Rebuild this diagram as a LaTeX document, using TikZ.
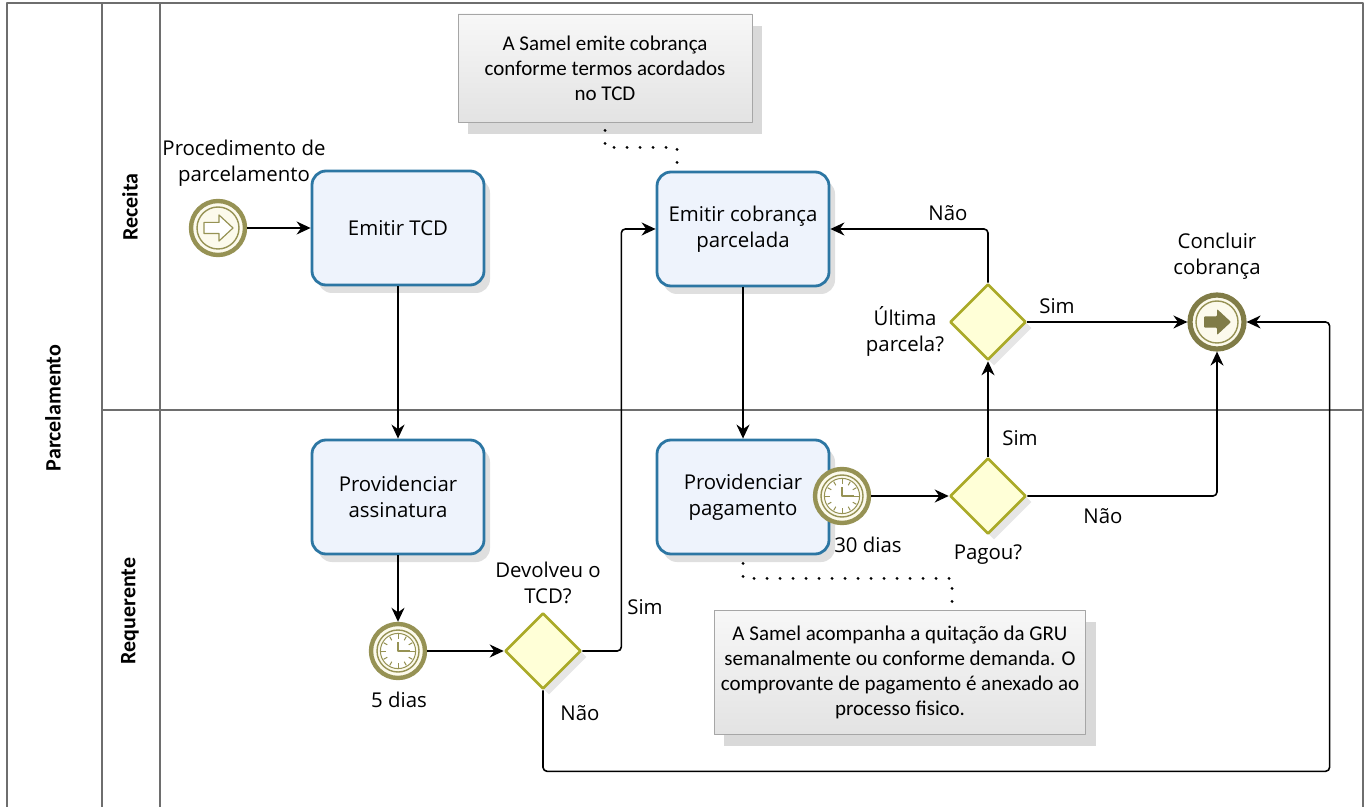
\documentclass[tikz,border=0pt]{standalone}
\usepackage{fontspec}
\setmainfont{Open Sans}
\newfontfamily\notefont{Carlito}
\usetikzlibrary{shapes.geometric,arrows.meta,shadows}
\definecolor{taskline}{RGB}{44,118,163}
\definecolor{taskfill}{RGB}{238,243,252}
\definecolor{gateline}{RGB}{170,170,40}
\definecolor{gatefill}{RGB}{255,255,215}
\definecolor{evline}{RGB}{150,146,84}
\definecolor{evfill}{RGB}{252,250,236}
\definecolor{poolline}{RGB}{110,110,110}
\begin{document}
\begin{tikzpicture}[x=0.5pt, y=-0.5pt, >={Stealth[length=7pt,width=6.5pt]}, line join=round,
  font=\fontsize{10.2}{13}\selectfont,
  task/.style={draw=taskline, line width=1.4pt, rounded corners=7pt, fill=taskfill, minimum width=86pt, minimum height=57pt, align=center,
    drop shadow={shadow xshift=3pt, shadow yshift=-4pt, opacity=0.25}},
  gate/.style={diamond, aspect=1, draw=gateline, line width=1.3pt, fill=gatefill, minimum size=38pt, inner sep=0pt,
    drop shadow={shadow xshift=3pt, shadow yshift=-3pt, opacity=0.2}},
  ev/.style={circle, draw=evline, line width=2.2pt, fill=evfill, minimum size=27pt, inner sep=0pt},
  flow/.style={->, line width=0.8pt, rounded corners=2pt},
  assoc/.style={line width=1.6pt, line cap=round, dash pattern=on 0pt off 6.5pt},
  note/.style={draw=gray!70, top color=gray!6, bottom color=gray!22, minimum width=147pt, minimum height=54pt, align=center,
    font=\notefont\fontsize{10.5}{12.5}\selectfont, drop shadow={shadow xshift=5pt, shadow yshift=-6pt, opacity=0.3}},
  lbl/.style={align=center, inner sep=0pt},
  lane/.style={rotate=90, font=\notefont\bfseries\fontsize{11}{13}\selectfont}
]
\useasboundingbox (0,0) rectangle (1370,807);
% pool and lanes
\draw[poolline, line width=1pt] (7,807) -- (7,3) -- (1363,3) -- (1363,807)
  (102,3) -- (102,807) (160,3) -- (160,807) (102,410) -- (1363,410);
\node[lane] (pool) at (53,408) {Parcelamento};
\node[lane] (rec) at (130,207) {Receita};
\node[lane] (req) at (130,611) {Requerente};

\node[ev] (start) at (218,228) {};
\node[task] (tcd) at (398,228) {Emitir TCD};
\node[task] (assin) at (398,497) {Providenciar\\assinatura};
\node[ev] (t5) at (398,651) {};
\node[gate] (devol) at (543,651) {};
\node[task] (cobr) at (743,229) {Emitir cobrança\\parcelada};
\node[task] (pagto) at (743,497) {Providenciar\\pagamento};
\node[ev] (t30) at (842,496) {};
\node[gate] (pagou) at (988,496) {};
\node[gate] (ultima) at (988,322) {};
\node[ev, line width=2.6pt, draw=evline!85!black] (fim) at (1217,322) {};
\node[note] (nota1) at (605,68) {A Samel emite cobrança\\conforme termos acordados\\no TCD};
\node[note, minimum width=185pt, minimum height=62pt] (nota2) at (900,672)
  {A Samel acompanha a quitação da GRU\\semanalmente ou conforme demanda. O\\comprovante de pagamento é anexado ao\\processo fisico.};

% event icons
\draw[evline, line width=0.7pt] (start) circle (10.5pt) (fim) circle (10.5pt);
\draw[evline, fill=white, line width=0.6pt, shift={(start.center)}]
  (-7pt,-2.8pt) -- (0.5pt,-2.8pt) -- (0.5pt,-6.5pt) -- (7.5pt,0pt) -- (0.5pt,6.5pt) -- (0.5pt,2.8pt) -- (-7pt,2.8pt) -- cycle;
\fill[evline!85!black, rounded corners=0.5pt, shift={(fim.center)}]
  (-6.5pt,-2.8pt) -- (0pt,-2.8pt) -- (0pt,-6.5pt) -- (7pt,0pt) -- (0pt,6.5pt) -- (0pt,2.8pt) -- (-6.5pt,2.8pt) -- cycle;
\foreach \c in {t5,t30}{
  \draw[evline, line width=0.7pt] (\c) circle (10.5pt);
  \draw[evline, fill=white, line width=0.5pt] (\c) circle (8.8pt);
  \foreach \a in {0,30,...,330}
    \draw[evline, line width=0.5pt] ([shift={(\a:6.2pt)}]\c.center) -- ([shift={(\a:8.3pt)}]\c.center);
  \draw[evline, line width=0.7pt] ([shift={(90:4.5pt)}]\c.center) -- (\c.center) -- ([shift={(0:6pt)}]\c.center);
}

% labels
\node[lbl] (lstart) at (244,163) {Procedimento de\\parcelamento};
\node[lbl] (l5) at (399,700) {5 dias};
\node[lbl] (ldevol) at (548,583) {Devolveu o\\TCD?};
\node[lbl] (lsim1) at (645,607) {Sim};
\node[lbl] (lnao1) at (580,713) {Não};
\node[lbl] (l30) at (868,545) {30 dias};
\node[lbl] (lpagou) at (988,555) {Pagou?};
\node[lbl] (lsim2) at (1020,438) {Sim};
\node[lbl] (lnao2) at (1103,516) {Não};
\node[lbl] (lultima) at (905,331) {Última\\parcela?};
\node[lbl] (lsim3) at (1057,306) {Sim};
\node[lbl] (lnao3) at (948,213) {Não};
\node[lbl] (lfim) at (1217,256) {Concluir\\cobrança};

% sequence flows
\draw[flow] (start) -- (tcd);
\draw[flow] (tcd) -- (assin);
\draw[flow] (assin) -- (t5);
\draw[flow] (t5) -- (devol);
\draw[flow] (devol.east) -- ++(39,0) |- (cobr.west);
\draw[flow] (devol.south) -- ++(0,81) -| ([xshift=41.5pt]fim.east) -- (fim.east);
\draw[flow] (cobr) -- (pagto);
\draw[flow] (t30) -- (pagou);
\draw[flow] (pagou) -- (ultima);
\draw[flow] (pagou.east) -| (fim.south);
\draw[flow] (ultima) -- (fim);
\draw[flow] (ultima.north) |- (cobr.east);

% associations
\draw[assoc] (nota1.south) ++(0,8) -- ++(0,17) -| ([xshift=-33pt]cobr.north);
\draw[assoc] (pagto.south) ++(0,8) -- ++(0,15) -| ([xshift=26pt]nota2.north);
\end{tikzpicture}
\end{document}
